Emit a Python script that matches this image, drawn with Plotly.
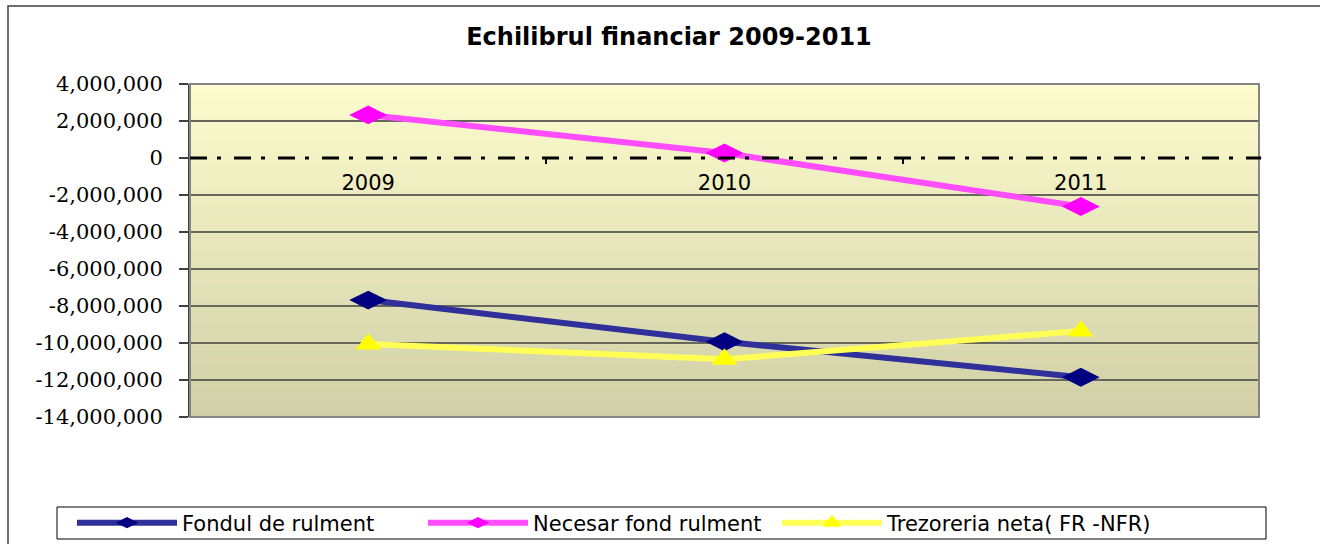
import plotly.graph_objects as go

# ---- data ----
years = ["2009", "2010", "2011"]
fondul_rulment = [-7680000, -9930000, -11850000]
necesar_fond_rulment = [2330000, 270000, -2620000]
trezoreria_neta = [-10050000, -10880000, -9350000]

series_names = ["Fondul de rulment", "Necesar fond rulment", "Trezoreria neta( FR -NFR)"]
y_tick_vals = [4000000, 2000000, 0, -2000000, -4000000, -6000000, -8000000,
               -10000000, -12000000, -14000000]
y_tick_text = ["4,000,000", "2,000,000", "0", "-2,000,000", "-4,000,000", "-6,000,000",
               "-8,000,000", "-10,000,000", "-12,000,000", "-14,000,000"]
title_text = "Echilibrul financiar 2009-2011"

W, H = 1320, 544
L, R, T, B = 190, 61, 84, 127
PW, PH = W - L - R, H - T - B


def px_x(p):
    return (p - L) / PW


def px_y(p):
    return (H - B - p) / PH


fig = go.Figure()

styles = [
    dict(line_color="#30309a", marker_color="#000080", symbol="diamond-wide", size=27, legend="legend", lx=72),
    dict(line_color="#ff4dff", marker_color="#ff00ff", symbol="diamond-wide", size=27, legend="legend2", lx=423),
    dict(line_color="#ffff55", marker_color="#ffff00", symbol="triangle-up", size=22, legend="legend3", lx=777),
]
for name, vals, st in zip(series_names, [fondul_rulment, necesar_fond_rulment, trezoreria_neta], styles):
    fig.add_trace(go.Scatter(
        x=years, y=vals, name=name, mode="lines+markers", legend=st["legend"],
        line=dict(color=st["line_color"], width=6),
        marker=dict(symbol=st["symbol"], size=st["size"], color=st["marker_color"],
                    line=dict(width=0)),
    ))

# gradient background bands
top_c = (252, 252, 205)
bot_c = (208, 207, 167)
n = 60
shapes = []
for i in range(n):
    f = (i + 0.5) / n
    c = tuple(round(bot_c[k] + (top_c[k] - bot_c[k]) * f) for k in range(3))
    shapes.append(dict(type="rect", xref="x domain", yref="y domain",
                       x0=0, x1=1, y0=i / n, y1=(i + 1) / n + 0.002,
                       fillcolor="rgb(%d,%d,%d)" % c, line=dict(width=0), layer="below"))
zero_f = 14 / 18
zc = tuple(round(bot_c[k] + (top_c[k] - bot_c[k]) * zero_f) for k in range(3))

# plot area border
shapes.append(dict(type="rect", xref="x domain", yref="y domain", x0=0, x1=1, y0=0, y1=1,
                   line=dict(color="#858585", width=2), layer="above"))
# dash-dot zero line
shapes.append(dict(type="line", xref="x domain", yref="y", x0=0, x1=1.002, y0=0, y1=0,
                   line=dict(color="black", width=3, dash="17px,10px,4px,13px"), layer="above"))
# outer chart border
shapes.append(dict(type="rect", xref="paper", yref="paper",
                   x0=px_x(8), x1=px_x(W + 20), y0=px_y(H + 20), y1=px_y(6),
                   line=dict(color="#404040", width=1.5), layer="below"))
# legend frame
shapes.append(dict(type="rect", xref="paper", yref="paper",
                   x0=px_x(57), x1=px_x(1266), y0=px_y(539), y1=px_y(507),
                   line=dict(color="black", width=1), fillcolor="white", layer="below"))


def legend_cfg(lx):
    return dict(orientation="h", x=lx / W, xref="container", xanchor="left",
                y=1 - 523 / H, yref="container", yanchor="middle",
                borderwidth=0, bgcolor="rgba(0,0,0,0)",
                font=dict(family="DejaVu Sans", size=21, color="black"),
                itemwidth=100, tracegroupgap=0)


fig.update_layout(
    width=W, height=H,
    margin=dict(l=L, r=R, t=T, b=B),
    paper_bgcolor="white",
    plot_bgcolor="rgba(0,0,0,0)",
    shapes=shapes,
    title=dict(text="<b>" + title_text + "</b>", x=669 / W, xref="container", xanchor="center",
               y=1 - 37 / H, yref="container", yanchor="middle",
               font=dict(family="DejaVu Sans", size=24, color="black")),
    showlegend=True,
    legend=legend_cfg(styles[0]["lx"]),
    legend2=legend_cfg(styles[1]["lx"]),
    legend3=legend_cfg(styles[2]["lx"]),
    xaxis=dict(type="category", range=[-0.5, 2.5], anchor="free", position=zero_f,
               showgrid=False, showline=False, zeroline=False,
               ticks="outside", ticklen=5, tickwidth=2, tickcolor="black",
               tickson="boundaries", ticklabelstandoff=10,
               tickfont=dict(family="DejaVu Sans", size=21, color="black")),
    yaxis=dict(range=[-14000000, 4000000], tickvals=y_tick_vals, ticktext=y_tick_text,
               showgrid=True, gridcolor="#66665a", gridwidth=1.5,
               zeroline=True, zerolinecolor="rgb(%d,%d,%d)" % zc, zerolinewidth=3,
               showline=True, linecolor="#404040", linewidth=2,
               ticks="outside", ticklen=9, tickcolor="#404040", tickwidth=1.5,
               ticklabelstandoff=12,
               tickfont=dict(family="DejaVu Serif", size=21, color="black")),
)

fig.write_html("out.html", config={"displayModeBar": False},
               post_script="document.body.style.margin='0';")
